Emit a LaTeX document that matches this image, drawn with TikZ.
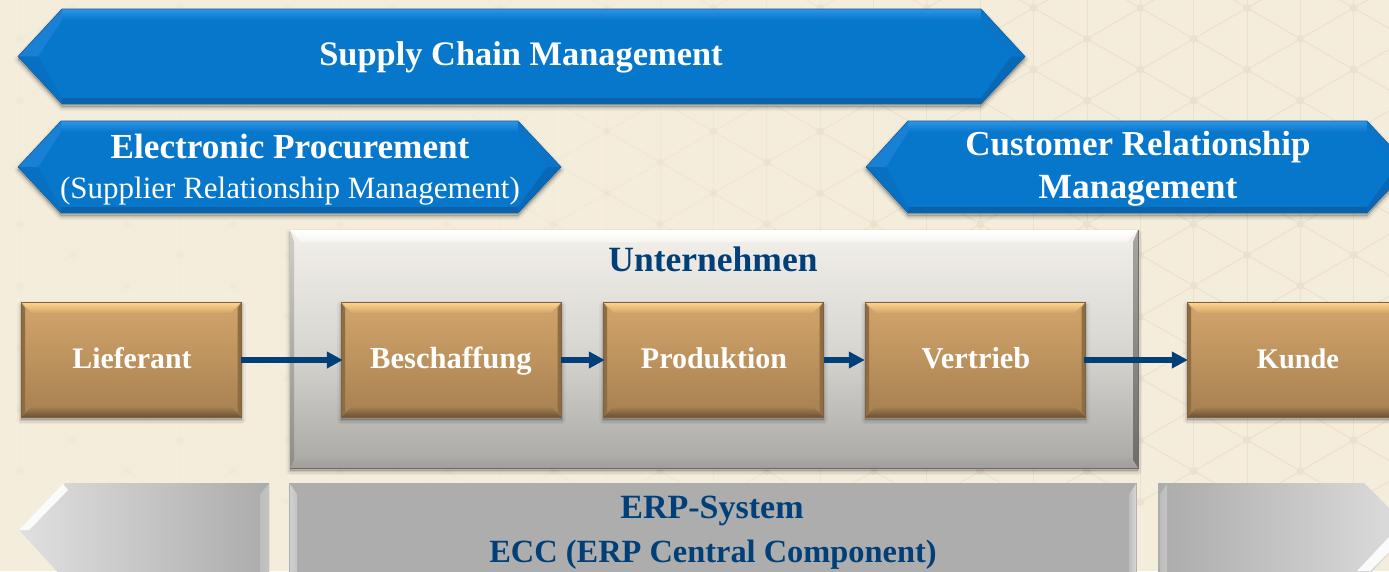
\documentclass[tikz,border=0pt]{standalone}
\usepackage{fontspec}
\setmainfont{Liberation Serif}
\newfontfamily\hb{Liberation Serif Bold}
\usetikzlibrary{arrows.meta}
\newcommand{\hc}[2]{\definecolor{#1}{HTML}{#2}}
\hc{bgc}{F5EDDC}\hc{latc}{EBE1CD}\hc{navy}{003F78}\hc{blueb}{0677CB}
\hc{bTop}{2E95E8}\hc{bBot}{0C62AA}\hc{bUL}{1A80D4}\hc{bLL}{0870C2}\hc{bUR}{0A74C8}\hc{bLR}{0868B6}\hc{bEdge}{14659F}
\hc{pA}{F3F0EB}\hc{pB}{D8D6D1}\hc{pC}{A9A7A3}\hc{pTa}{FFFFFF}\hc{pTb}{F7F5F1}
\hc{pLa}{D0CEC9}\hc{pLb}{8E8C88}\hc{pRa}{A8A6A2}\hc{pRb}{6E6C68}\hc{pBa}{B0AEAA}\hc{pBb}{A09E9A}
\hc{wA}{D3A56B}\hc{wB}{A68050}\hc{wT}{FFD68E}\hc{wS}{8E6D42}\hc{wD}{6B5233}\hc{wE}{7E6240}
\hc{gA}{E0E0E0}\hc{gB}{ABABAB}\hc{gC}{BDBDBD}\hc{gD}{F6F6F6}\hc{gE}{C4C4C4}\hc{gF}{ADADAD}\hc{gG}{D0D0D0}\hc{gH}{D8D8D8}\hc{gI}{DEDEDE}
\tikzset{
  shadowlayer/.style={fill=black,draw=black,line join=round},
  conn/.style={draw=navy,line width=5.5pt,-{Triangle[length=16pt,width=16pt]},shorten >=-2pt},
  lbl/.style={anchor=base,inner sep=0pt,text=white},
  lbln/.style={anchor=base,inner sep=0pt,text=navy},
  anch/.style={inner sep=0pt,minimum width=0pt,minimum height=0pt},
  fs/.style={font=\hb\fontsize{#1}{#1}\selectfont},
  plain/.style={font=\fontsize{31}{31}\selectfont}
}
\newcommand{\softshade}[1]{%
  \begin{scope}[yshift=-3pt]
  \foreach \w/\o in {8/.04,5/.06,2/.08}{\path[shadowlayer,opacity=\o,line width=\w pt] #1;}
  \end{scope}}
\newcommand{\banner}[6]{%
  \pgfmathsetmacro\ym{(#5+#6)/2}%
  \pgfmathsetmacro\ti{#5+11}\pgfmathsetmacro\bi{#6-6}%
  \pgfmathsetmacro\xli{#1+20}\pgfmathsetmacro\xri{#4-14}%
  \softshade{(#1,\ym)--(#2,#5)--(#3,#5)--(#4,\ym)--(#3,#6)--(#2,#6)--cycle}
  \fill[blueb] (#1,\ym)--(#2,#5)--(#3,#5)--(#4,\ym)--(#3,#6)--(#2,#6)--cycle;
  \shade[top color=bTop,bottom color=blueb] (#2,#5)--(#3,#5)--(#3,\ti)--(#2,\ti)--cycle;
  \fill[bBot] (#2,\bi)--(#3,\bi)--(#3,#6)--(#2,#6)--cycle;
  \fill[bUL] (#1,\ym)--(#2,#5)--(#2,\ti)--(\xli,\ym)--cycle;
  \fill[bLL] (#1,\ym)--(\xli,\ym)--(#2,\bi)--(#2,#6)--cycle;
  \fill[bUR] (#3,#5)--(#4,\ym)--(\xri,\ym)--(#3,\ti)--cycle;
  \fill[bLR] (#4,\ym)--(\xri,\ym)--(#3,\bi)--(#3,#6)--cycle;
  \draw[bEdge,line width=.6pt] (#1,\ym)--(#2,#5)--(#3,#5)--(#4,\ym)--(#3,#6)--(#2,#6)--cycle;
}
\begin{document}
\begin{tikzpicture}[x=1pt,y=-1pt,line join=miter]
\useasboundingbox (0,0) rectangle (1389,571);
\clip (0,0) rectangle (1389,571);
\fill[bgc] (0,0) rectangle (1389,571);
\foreach \i in {-1,...,26}{
  \foreach \j in {-1,...,16}{
    \pgfmathtruncatemacro\prty{mod(\i+\j+40,2)}
    \ifnum\prty=0
      \pgfmathsetmacro\px{20+53.35*\i}
      \pgfmathsetmacro\py{471-30.87*\j}
      \pgfmathsetmacro\op{min(1,max(.14,(\px-350)/650))}
      \begin{scope}[opacity=\op]
      \draw[latc,line width=1pt] (\px,\py)--(\px,\py-61.74);
      \draw[latc,line width=1pt] (\px,\py)--(\px+53.35,\py-30.87);
      \draw[latc,line width=1pt] (\px,\py)--(\px-53.35,\py-30.87);
      \fill[latc] (\px,\py) circle (4pt);
      \end{scope}
    \fi
  }
}
\banner{18}{62}{981}{1025}{9}{104}
\banner{18}{61}{518}{561}{121}{213}
\banner{866}{908}{1367}{1410}{121}{213}
\softshade{(290,230) rectangle (1138,468)}
\shade[top color=pA,bottom color=pC,middle color=pB] (290,230) rectangle (1138,468);
\shade[top color=pTa,bottom color=pTb] (290,230)--(1138,230)--(1127,242)--(301,242)--cycle;
\shade[top color=pLa,bottom color=pLb] (290,230)--(294,242)--(294,460)--(290,468)--cycle;
\shade[top color=pRa,bottom color=pRb] (1138,230)--(1133,242)--(1133,460)--(1138,468)--cycle;
\shade[top color=pBa,bottom color=pBb] (290,468)--(300,453)--(1128,453)--(1138,468)--cycle;
\draw[pRb,line width=1pt] (1138,230)--(1138,468)--(290,468);
\foreach \xa in {21,341,603,865,1187}{
  \pgfmathsetmacro\xb{\xa+220.5}
  \softshade{(\xa,302) rectangle (\xb,417)}
  \shade[top color=wA,bottom color=wB] (\xa,302) rectangle (\xb,417);
  \shade[top color=wT,bottom color=wA] (\xa,302)--(\xb,302)--(\xb-11,313)--(\xa+11,313)--cycle;
  \fill[wS] (\xa,302)--(\xa+4,308)--(\xa+4,412)--(\xa,417)--cycle;
  \fill[wS] (\xb,302)--(\xb-4,308)--(\xb-4,412)--(\xb,417)--cycle;
  \shade[top color=wB,bottom color=wD] (\xa,417)--(\xa+10,407)--(\xb-10,407)--(\xb,417)--cycle;
  \draw[wE,line width=.6pt] (\xa,302) rectangle (\xb,417);
}
\node[anch] (lief) at (241,360) {};
\node[anch] (besch) at (341,360) {};
\node[anch] (beschr) at (561,360) {};
\node[anch] (prod) at (603,360) {};
\node[anch] (prodr) at (824,360) {};
\node[anch] (vert) at (863,360) {};
\node[anch] (vertr) at (1084,360) {};
\node[anch] (kund) at (1186,360) {};
\draw[conn] (lief)--(besch);
\draw[conn] (beschr)--(prod);
\draw[conn] (prodr)--(vert);
\draw[conn] (vertr)--(kund);
\shade[left color=gA,right color=gB] (19,530)--(65,483)--(269,483)--(269,580)--(65,580)--cycle;
\fill[white,opacity=.9] (19,530)--(63,484)--(68,490)--(29,530)--cycle;
\shade[left color=gC,middle color=gD,right color=gE] (260,494)--(269,484)--(269,580)--(260,580)--cycle;
\fill[gF] (289,483) rectangle (1137,580);
\shade[left color=gG,middle color=white,right color=gE] (290,484)--(297,494)--(297,580)--(290,580)--cycle;
\shade[left color=gC,middle color=white,right color=gH] (1129,494)--(1136,484)--(1136,580)--(1129,580)--cycle;
\shade[left color=gB,right color=gI] (1158,483)--(1364,483)--(1411,530)--(1364,580)--(1158,580)--cycle;
\shade[left color=gC,middle color=gD,right color=gE] (1160,494)--(1167,484)--(1167,580)--(1160,580)--cycle;
\fill[white,opacity=.9] (1357,571)--(1389,537)--(1389,552)--(1370,571)--cycle;
\node[lbl,fs=34.4] (t1) at (521,65) {Supply Chain Management};
\node[lbl,fs=35.2] (t2) at (290,158) {Electronic Procurement};
\node[lbl,plain] (t3) at (290,198) {(Supplier Relationship Management)};
\node[lbl,fs=35] (t4) at (1138,155) {Customer Relationship};
\node[lbl,fs=35.4] (t5) at (1138,198) {Management};
\node[lbln,fs=35.5] (t6) at (713,271) {Unternehmen};
\node[lbl,fs=29.8] (t7) at (132,368) {Lieferant};
\node[lbl,fs=30.6] (t8) at (451,368) {Beschaffung};
\node[lbl,fs=30] (t9) at (714,368) {Produktion};
\node[lbl,fs=30.4] (t10) at (976,368) {Vertrieb};
\node[lbl,fs=28.4] (t11) at (1298,368) {Kunde};
\node[lbln,fs=34] (t12) at (712,518) {ERP-System};
\node[lbln,fs=32.4] (t13) at (713,562) {ECC (ERP Central Component)};
\end{tikzpicture}
\end{document}
